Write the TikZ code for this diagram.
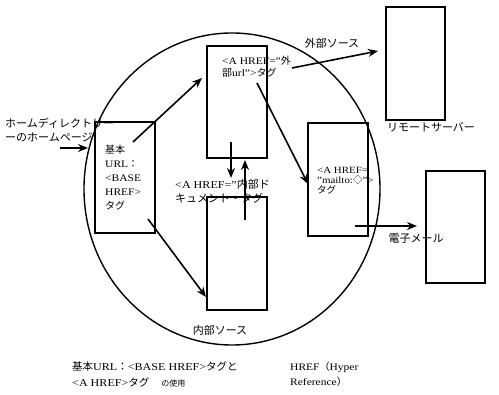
\documentclass[tikz,border=0pt]{standalone}
\usepackage{fontspec}
\setmainfont{Liberation Serif}[FakeStretch=1.15]
\newfontfamily\jp{Noto Sans CJK JP}
\usetikzlibrary{arrows.meta,shapes.geometric}
\begin{document}
\begin{tikzpicture}[x=1pt,y=-1pt,
  box/.style={draw,line width=1.4pt,minimum width=60pt,minimum height=112pt,inner sep=0},
  arr/.style={line width=1.6pt,-{Stealth[length=10pt,width=8pt]}},
  lbl/.style={inner sep=0,font=\jp\fontsize{11}{13}\selectfont},
  txt/.style={inner sep=0,anchor=north west,align=left}]
\useasboundingbox (0,0) rectangle (499,395);
\node[ellipse,draw,line width=1.4pt,minimum width=296pt,minimum height=312pt,inner sep=0] (circ) at (232,189) {};
% boxes
\node[box,minimum height=111pt] (base) at (125,177.5) {};
\node[box] (ext) at (237,102) {};
\node[box,minimum height=113pt] (int) at (237,253.5) {};
\node[box,minimum height=113pt] (mailto) at (338,179.5) {};
\node[box,minimum width=59pt,minimum height=113pt] (remote) at (415.5,63.5) {};
\node[box,minimum width=59pt] (email) at (455.5,227) {};
% box texts
\node[txt,font=\fontsize{10}{14}\selectfont] (basetxt) at (105,145)
  {{\jp 基本}\\URL{\jp ：}\\<BASE\\HREF>\\{\jp タグ}};
\node[txt,font=\fontsize{10}{12}\selectfont] (exttxt) at (222,56)
  {<A HREF="{\jp 外}\\{\jp 部}url">{\jp タグ}};
\node[txt,font=\fontsize{9.5}{10}\selectfont] (mailtxt) at (317,167)
  {<A HREF=\\"mailto:{\jp ◇}">\\{\jp タグ}};
\node[txt,font=\fontsize{10.5}{14}\selectfont] (inttxt) at (175,179)
  {<A HREF="{\jp\fontsize{11}{14}\selectfont 内部ド}\\{\jp\fontsize{11}{14}\selectfont キュメント・タグ}};
% labels
\node[lbl] (extlbl) at (332,43) {外部ソース};
\node[lbl] (remlbl) at (431,127) {リモートサーバー};
\node[lbl] (emlbl) at (416,239) {電子メール};
\node[lbl] (intlbl) at (220,330) {内部ソース};
\node[lbl,anchor=west] (home1) at (5,123) {ホームディレクトリー};
\node[lbl,anchor=west] (home2) at (5,137) {ーのホームページ};
\node[txt,font=\fontsize{10.5}{16}\selectfont] (cap1) at (72,361)
  {{\jp 基本}URL{\jp ：}<BASE HREF>{\jp タグと}\\<A HREF>{\jp タグ}\hspace{12pt}{\jp\fontsize{8}{10}\selectfont の使用}};
\node[txt,font=\fontsize{10}{15}\selectfont] (cap2) at (290,362)
  {HREF{\jp （}Hyper\\Reference{\jp ）}};
% connector ends
\coordinate (hs) at (60,148);
\coordinate (he) at (88,148);
\coordinate (a2s) at (133,142);
\coordinate (a2e) at (202,78);
\coordinate (a3s) at (148,219);
\coordinate (a3e) at (206,297);
\coordinate (a4s) at (292,68);
\coordinate (a4e) at (378,51);
\coordinate (a5s) at (257,83);
\coordinate (a5e) at (308,184);
\coordinate (a6s) at (231,142);
\coordinate (a6e) at (231,178);
\coordinate (a7s) at (245,220);
\coordinate (a7e) at (245,160);
\coordinate (a8s) at (355,226);
\coordinate (a8e) at (417,226);
\draw[arr] (hs) -- (he);
\draw[arr] (a2s) -- (a2e);
\draw[arr] (a3s) -- (a3e);
\draw[arr] (a4s) -- (a4e);
\draw[arr] (a5s) -- (a5e);
\draw[arr] (a6s) -- (a6e);
\draw[arr] (a7s) -- (a7e);
\draw[arr] (a8s) -- (a8e);
\end{tikzpicture}
\end{document}
